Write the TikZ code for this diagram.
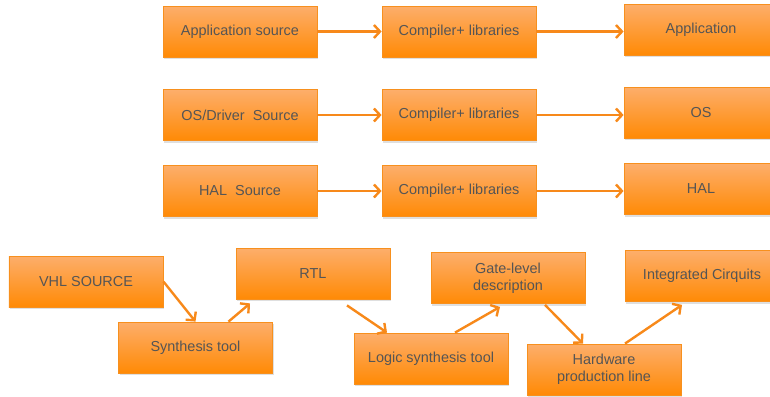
\documentclass[tikz,border=0pt]{standalone}
\usepackage{fontspec}
\setmainfont{Liberation Sans}
\usetikzlibrary{arrows.meta,shadows}
\definecolor{boxtop}{HTML}{FDAE6B}
\definecolor{boxbot}{HTML}{FF8A05}
\definecolor{boxline}{HTML}{F7901E}
\definecolor{txt}{HTML}{555555}
\definecolor{arr}{HTML}{F7891A}
\tikzset{
  block/.style={rectangle, draw=boxline, line width=0.8bp,
    top color=boxtop, bottom color=boxbot,
    minimum width=154bp, minimum height=51bp, inner sep=2bp,
    align=center, text=txt,
    font=\fontsize{14.5}{17}\selectfont,
    drop shadow={opacity=0.25, shadow xshift=1bp, shadow yshift=-2bp}},
  link/.style={draw=arr, line width=2.4bp,
    -{Straight Barb[length=6bp,width=13bp,line width=2.4bp]}}
}
\begin{document}
\begin{tikzpicture}[x=1bp,y=-1bp]
\useasboundingbox (0,0) rectangle (770,396);
% software flow
\node[block] (appsrc) at (240,31.5) {Application source};
\node[block] (appcc)  at (459,31.5) {Compiler+ libraries};
\node[block] (app)    at (701,29.5) {Application};
\node[block] (ossrc)  at (240,115) {OS/Driver\ \ Source};
\node[block] (oscc)   at (459,115) {Compiler+ libraries};
\node[block] (os)     at (701,112.5) {OS};
\node[block] (halsrc) at (240,191) {HAL\ \ Source};
\node[block] (halcc)  at (459,191) {Compiler+ libraries};
\node[block] (hal)    at (701,189) {HAL};
\draw[link] (appsrc) -- (appcc);
\draw[link] (appcc.east) -- (app.west |- appcc.east);
\draw[link] (ossrc) -- (oscc);
\draw[link] (oscc.east) -- (os.west |- oscc.east);
\draw[link] (halsrc) -- (halcc);
\draw[link] (halcc.east) -- (hal.west |- halcc.east);
% hardware flow
\node[block] (vhl)   at (86,281.5)  {VHL SOURCE};
\node[block] (synth) at (195.5,347.5) {Synthesis tool};
\node[block] (rtl)   at (313,273.5) {RTL};
\node[block] (logic) at (431,358.5) {Logic synthesis tool};
\node[block] (gate)  at (508,278)   {Gate-level\\description};
\node[block] (hw)    at (604,369.5) {Hardware\\production line};
\node[block] (ic)    at (702,276)   {Integrated Cirquits};
\draw[link] (vhl.east) -- (synth.north);
\draw[link] ([xshift=33bp]synth.north) -- ([xshift=-63bp,yshift=-4bp]rtl.south);
\draw[link] ([xshift=34bp,yshift=-6bp]rtl.south) -- ([xshift=-44bp]logic.north);
\draw[link] ([xshift=24bp]logic.north) -- ([xshift=-8bp,yshift=-3bp]gate.south);
\draw[link] ([xshift=37bp,yshift=-1bp]gate.south) -- ([xshift=-21bp]hw.north);
\draw[link] ([xshift=21bp]hw.north) -- ([xshift=-20bp,yshift=-3bp]ic.south);
\end{tikzpicture}
\end{document}
